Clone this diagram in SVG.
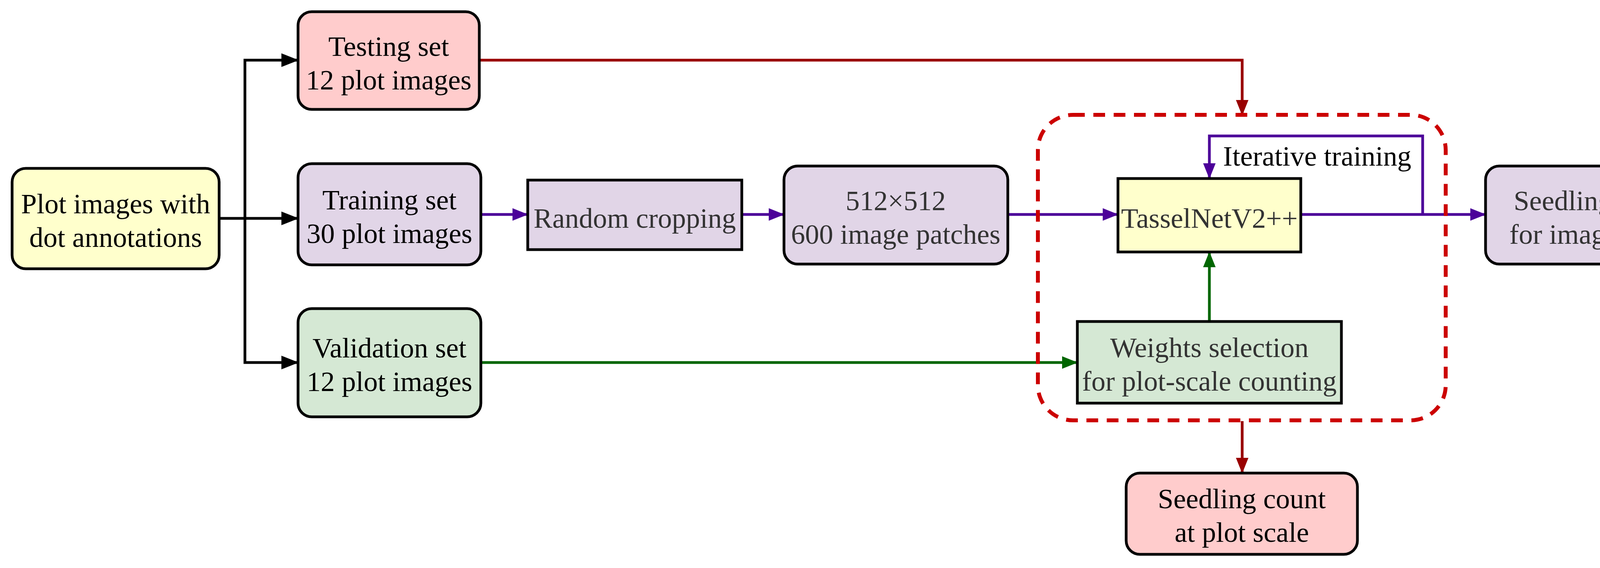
<svg xmlns="http://www.w3.org/2000/svg" width="4409" height="1454" viewBox="0 0 4409 1454">
<defs>
<style>
text{font-family:"Liberation Serif","Times New Roman",serif;font-size:72px;text-anchor:middle}
.b{stroke:#000;stroke-width:7}
.g{fill:#333}
.k{fill:#000}
.ln{fill:none;stroke-width:7}
</style>
<marker id="ap" viewBox="0 0 10 8" refX="9" refY="4" markerWidth="40" markerHeight="32" orient="auto" markerUnits="userSpaceOnUse"><path d="M0,0L10,4L0,8z" fill="#4C0099"/></marker>
<marker id="ar" viewBox="0 0 10 8" refX="9" refY="4" markerWidth="40" markerHeight="32" orient="auto" markerUnits="userSpaceOnUse"><path d="M0,0L10,4L0,8z" fill="#990000"/></marker>
<marker id="ag" viewBox="0 0 10 8" refX="9" refY="4" markerWidth="40" markerHeight="32" orient="auto" markerUnits="userSpaceOnUse"><path d="M0,0L10,4L0,8z" fill="#006600"/></marker>
<marker id="ab" viewBox="0 0 10 8" refX="9" refY="4" markerWidth="44" markerHeight="36" orient="auto" markerUnits="userSpaceOnUse"><path d="M0,0L10,4L0,8z" fill="#000"/></marker>
</defs>
<rect width="4409" height="1454" fill="#fff"/>
<g id="connectors">
<path class="ln" stroke="#000" d="M561,559H627V154H760" marker-end="url(#ab)"/>
<path class="ln" stroke="#000" d="M627,559H760" marker-end="url(#ab)"/>
<path class="ln" stroke="#000" d="M627,559V928H760" marker-end="url(#ab)"/>
<path class="ln" stroke="#990000" d="M1227,154H3180V292" marker-end="url(#ar)"/>
<path class="ln" stroke="#4C0099" d="M1231,549H1348" marker-end="url(#ap)"/>
<path class="ln" stroke="#4C0099" d="M1899,549H2004" marker-end="url(#ap)"/>
<path class="ln" stroke="#4C0099" d="M2580,549H2859" marker-end="url(#ap)"/>
<path class="ln" stroke="#4C0099" d="M3330,549H3800" marker-end="url(#ap)"/>
<path class="ln" stroke="#4C0099" d="M3642,549V348H3096V454" marker-end="url(#ap)"/>
<path class="ln" stroke="#006600" d="M1231,928H2755" marker-end="url(#ag)"/>
<path class="ln" stroke="#006600" d="M3096,823V648" marker-end="url(#ag)"/>
<path class="ln" stroke="#990000" d="M3180,1078V1208" marker-end="url(#ar)"/>
<text x="3372" y="424" class="k">Iterative training</text>
</g>
<g id="group"><rect x="2657" y="294" width="1044" height="782" rx="90" fill="none" stroke="#CC0000" stroke-width="10" stroke-dasharray="30,22"/></g>
<g id="plot"><rect class="b" x="31" y="431" width="530" height="257" rx="35" fill="#FFFFCC"/><text class="k" x="296" y="546">Plot images with</text><text class="k" x="296" y="632">dot annotations</text></g>
<g id="testing"><rect class="b" x="763" y="30" width="464" height="250" rx="35" fill="#FFCCCC"/><text class="k" x="995" y="143">Testing set</text><text class="k" x="995" y="229">12 plot images</text></g>
<g id="training"><rect class="b" x="763" y="419" width="468" height="259" rx="35" fill="#E1D5E7"/><text class="k" x="997" y="536">Training set</text><text class="k" x="997" y="622">30 plot images</text></g>
<g id="validation"><rect class="b" x="763" y="790" width="468" height="277" rx="35" fill="#D5E8D4"/><text class="k" x="997" y="915">Validation set</text><text class="k" x="997" y="1001">12 plot images</text></g>
<g id="crop"><rect class="b" x="1351" y="461" width="548" height="178" fill="#E1D5E7"/><text class="g" x="1625" y="583">Random cropping</text></g>
<g id="patches"><rect class="b" x="2007" y="425" width="573" height="251" rx="35" fill="#E1D5E7"/><text class="g" x="2293" y="538">512×512</text><text class="g" x="2293" y="624">600 image patches</text></g>
<g id="tassel"><rect class="b" x="2862" y="457" width="468" height="188" fill="#FFFFCC"/><text class="g" x="3096" y="583">TasselNetV2++</text></g>
<g id="weights"><rect class="b" x="2758" y="823" width="676" height="209" fill="#D5E8D4"/><text class="g" x="3096" y="914">Weights selection</text><text class="g" x="3096" y="1000">for plot-scale counting</text></g>
<g id="countpatch"><rect class="b" x="3803" y="425" width="573" height="251" rx="35" fill="#E1D5E7"/><text class="g" x="4090" y="538">Seedling count</text><text class="g" x="4090" y="624">for image patch</text></g>
<g id="countplot"><rect class="b" x="2883" y="1211" width="592" height="208" rx="35" fill="#FFCCCC"/><text class="k" x="3179" y="1301">Seedling count</text><text class="k" x="3179" y="1387">at plot scale</text></g>
</svg>
